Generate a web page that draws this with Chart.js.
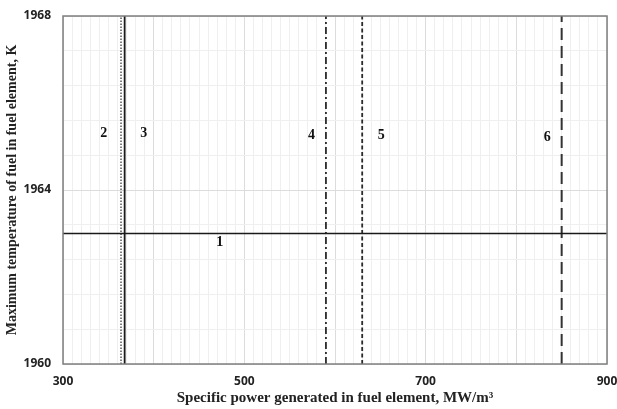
<!DOCTYPE html>
<html>
<head>
<meta charset="utf-8">
<script src="https://cdn.jsdelivr.net/npm/chart.js@4/dist/chart.umd.min.js"></script>
<style>
  html, body { margin: 0; padding: 0; background: #fff; }
  #wrap { width: 617px; height: 409px; }
</style>
</head>
<body>
<div id="wrap"><canvas id="chart" width="617" height="409"></canvas></div>
<script>
// curve values
const curveNames = ['1', '2', '3', '4', '5', '6'];
const horizontalT = 1963;               // curve 1, K
const verticalP = [364, 368, 590, 630, 850]; // curves 2..6, MW/m3
const labelX = [473, 345, 389, 574, 651, 834];
const labelY = [1962.8, 1965.3, 1965.3, 1965.25, 1965.25, 1965.22];
const xTickLabels = [300, 500, 700, 900];
const yTickLabels = [1960, 1964, 1968];

const styles = [
  { dash: [], width: 1.5, color: '#1a1a1a' },
  { dash: [1.5, 1.5], width: 1.5, color: '#555' },
  { dash: [], width: 1.8, color: '#1a1a1a' },
  { dash: [7, 3, 2, 3], width: 1.8, color: '#2a2a2a' },
  { dash: [4, 2.5], width: 1.8, color: '#2a2a2a' },
  { dash: [12, 6], width: 2, color: '#333' }
];

const datasets = [{
  data: [{ x: 300, y: horizontalT }, { x: 900, y: horizontalT }]
}];
verticalP.forEach(p => datasets.push({ data: [{ x: p, y: 1960 }, { x: p, y: 1968 }] }));
datasets.forEach((d, i) => {
  d.label = curveNames[i];
  d.showLine = true;
  d.pointRadius = 0;
  d.borderColor = styles[i].color;
  d.borderWidth = styles[i].width;
  d.borderDash = styles[i].dash;
  d.fill = false;
});

const curveLabels = {
  id: 'curveLabels',
  afterDatasetsDraw(chart) {
    const { ctx, scales: { x, y } } = chart;
    ctx.save();
    ctx.font = 'bold 14px "Liberation Serif"';
    ctx.fillStyle = '#111';
    ctx.textAlign = 'center';
    ctx.textBaseline = 'middle';
    curveNames.forEach((n, i) => {
      ctx.fillText(n, x.getPixelForValue(labelX[i]), y.getPixelForValue(labelY[i]));
    });
    ctx.restore();
  }
};

const plotBorder = {
  id: 'plotBorder',
  afterDatasetsDraw(chart) {
    const { ctx, chartArea: a } = chart;
    ctx.save();
    ctx.strokeStyle = '#7f7f7f';
    ctx.lineWidth = 1.5;
    ctx.strokeRect(a.left, a.top, a.right - a.left, a.bottom - a.top);
    ctx.restore();
  }
};

const near = (v, list) => list.some(t => Math.abs(v - t) < 1e-6);

new Chart(document.getElementById('chart'), {
  type: 'scatter',
  data: { datasets },
  options: {
    responsive: false,
    animation: false,
    layout: { padding: { top: 16, right: 10, left: 4, bottom: 2 } },
    plugins: { legend: { display: false }, tooltip: { enabled: false } },
    scales: {
      x: {
        type: 'linear',
        min: 300, max: 900,
        afterBuildTicks(s) {
          const t = [];
          for (let v = 300; v <= 900; v += 10) t.push({ value: v });
          s.ticks = t;
        },
        afterFit(s) { s.height = 43; s.paddingLeft = 0; s.paddingRight = 0; },
        ticks: {
          autoSkip: false, maxRotation: 0, padding: 10,
          color: '#222',
          font: { family: '"Open Sans"', weight: 'bold', size: 12 },
          callback: v => near(v, xTickLabels) ? String(v) : ''
        },
        grid: {
          drawTicks: false,
          color: c => (c.tick && c.tick.value % 100 === 0) ? '#dcdcdc' : '#efefef',
          lineWidth: 1
        },
        border: { display: false },
        title: {
          display: true,
          text: 'Specific power generated in fuel element, MW/m³',
          color: '#222',
          font: { family: '"Liberation Serif"', weight: 'bold', size: 15 },
          padding: { top: 0, bottom: 0 }
        }
      },
      y: {
        type: 'linear',
        min: 1960, max: 1968,
        afterBuildTicks(s) {
          const t = [];
          for (let k = 0; k <= 10; k++) t.push({ value: 1960 + k * 0.8 });
          s.ticks = t;
        },
        afterFit(s) { s.width = 59; s.paddingTop = 0; s.paddingBottom = 0; },
        ticks: {
          autoSkip: false, padding: 12,
          color: '#222',
          font: { family: '"Open Sans"', weight: 'bold', size: 12 },
          callback: v => near(v, yTickLabels) ? String(Math.round(v)) : ''
        },
        grid: {
          drawTicks: false,
          color: c => (c.tick && near(c.tick.value, yTickLabels)) ? '#dcdcdc' : '#efefef',
          lineWidth: 1
        },
        border: { display: false },
        title: {
          display: true,
          text: 'Maximum temperature of fuel in fuel element, K',
          color: '#222',
          font: { family: '"Liberation Serif"', weight: 'bold', size: 14 },
          padding: { top: 0, bottom: 0 }
        }
      }
    }
  },
  plugins: [plotBorder, curveLabels]
});
</script>
</body>
</html>
